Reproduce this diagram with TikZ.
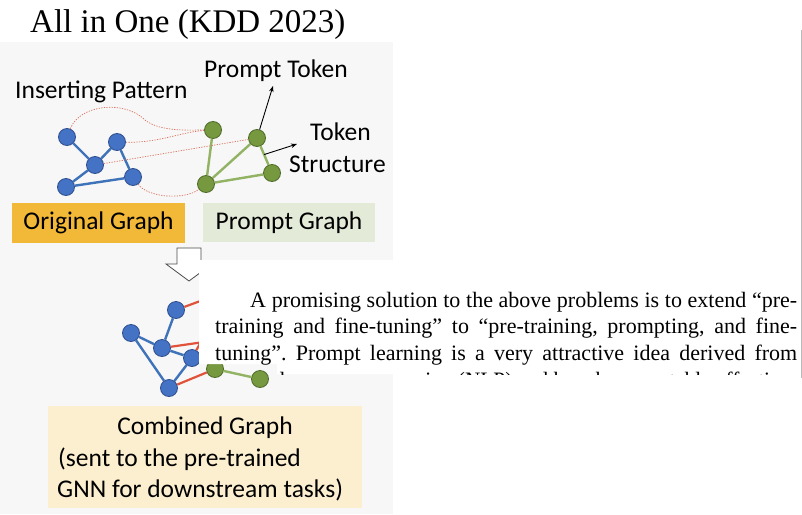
\documentclass[tikz,border=0pt]{standalone}
\usepackage{fontspec}
\setmainfont{Liberation Serif}
\newfontfamily\slidefont{Carlito}
\usepackage{graphicx}
\usetikzlibrary{arrows.meta}
\definecolor{aoBlue}{HTML}{4472C4}
\definecolor{aoBlueDark}{HTML}{2F4F8F}
\definecolor{aoBlueLine}{HTML}{3E73B9}
\definecolor{aoGreen}{HTML}{76983F}
\definecolor{aoGreenDark}{HTML}{4F6B29}
\definecolor{aoGreenLine}{HTML}{93B364}
\definecolor{aoRed}{HTML}{E0533A}
\definecolor{aoDot}{HTML}{D9735E}
\definecolor{aoOrange}{HTML}{F2B838}
\definecolor{aoMint}{HTML}{E3EBD8}
\definecolor{aoCream}{HTML}{FCEFCF}
\definecolor{aoSlide}{HTML}{F7F7F7}
\tikzset{
  bnode/.style={circle, fill=aoBlue, draw=aoBlueDark, line width=0.8pt, minimum size=17pt, inner sep=0pt},
  gnode/.style={circle, fill=aoGreen, draw=aoGreenDark, line width=0.8pt, minimum size=17pt, inner sep=0pt},
  bedge/.style={aoBlueLine, line width=2.4pt},
  gedge/.style={aoGreenLine, line width=2.4pt},
  redge/.style={aoRed, line width=2.2pt},
  dotlink/.style={aoDot, line width=0.7pt, dash pattern=on 1.3pt off 1.3pt},
  pointer/.style={-{Stealth[length=6pt,width=4.5pt]}, line width=0.9pt, black},
  slidetxt/.style={font=\slidefont\fontsize{25.5}{30}\selectfont, inner sep=0pt, anchor=base west},
  papertxt/.style={font=\fontsize{22}{26.5}\selectfont\frenchspacing, inner sep=0pt, anchor=base west},
}
\begin{document}
\begin{tikzpicture}[x=1pt, y=-1pt]
  \useasboundingbox (0,0) rectangle (802,514);
  \fill[white] (0,0) rectangle (802,514);
  % title
  \node[font=\fontsize{33}{40}\selectfont, inner sep=0pt, anchor=base west] (title) at (30,32) {All in One (KDD 2023)};
  % slide
  \fill[aoSlide] (0,42) rectangle (393,514);
  \node[slidetxt] (insLabel) at (15,98) {Inserting Pattern};
  \node[slidetxt] (ptLabel) at (204,77) {Prompt Token};
  \node[slidetxt] (tokLabel) at (310,140) {Token};
  \node[slidetxt] (strLabel) at (289,172) {Structure};
  % original graph
  \node[bnode] (o1) at (67,137) {};
  \node[bnode] (o2) at (117,142) {};
  \node[bnode] (o3) at (95,165) {};
  \node[bnode] (o4) at (133,177) {};
  \node[bnode] (o5) at (66,187) {};
  \foreach \a/\b in {o1/o3, o3/o2, o2/o4, o5/o4, o5/o3}{\draw[bedge] (\a) -- (\b);}
  % prompt graph
  \node[gnode] (p1) at (213,130) {};
  \node[gnode] (p2) at (257,138) {};
  \node[gnode] (p3) at (272,173) {};
  \node[gnode] (p4) at (206,184) {};
  \foreach \a/\b in {p1/p4, p4/p2, p4/p3}{\draw[gedge] (\a) -- (\b);}
  \draw[gedge] (p2) -- coordinate[pos=0.45] (tsFoot) (p3);
  % inserting pattern
  \draw[dotlink] (o1) .. controls (80,104) and (125,100) .. (145,120) .. controls (160,132) and (190,130) .. (p1);
  \draw[dotlink] (o2) .. controls (160,143) and (180,132) .. (p1);
  \draw[dotlink] (o3) -- (p2);
  \draw[dotlink] (o4) .. controls (148,198) and (185,200) .. (p4);
  % pointers
  \coordinate (ptTip) at (273,86);
  \coordinate (tsTip) at (297,144);
  \draw[pointer] (p2) -- (ptTip);
  \draw[pointer] (tsFoot) -- (tsTip);
  % label boxes
  \node[fill=aoOrange, minimum width=173pt, minimum height=40pt, inner sep=0pt,
        font=\slidefont\fontsize{25.5}{30}\selectfont] (origBox) at (98.5,222.5) {Original Graph};
  \node[fill=aoMint, minimum width=172pt, minimum height=39pt, inner sep=0pt,
        font=\slidefont\fontsize{25.5}{30}\selectfont] (promBox) at (289,222.5) {Prompt Graph};
  % down arrow
  \draw[gray!60!black, fill=white, line width=0.8pt]
    (177,248) -- (201,248) -- (201,264) -- (212,264) -- (189,281) -- (166,264) -- (177,264) -- cycle;
  % combined graph
  \node[bnode] (c1) at (176,310) {};
  \node[bnode] (c2) at (131,333) {};
  \node[bnode] (c3) at (162,348) {};
  \node[bnode] (c4) at (192,358) {};
  \node[bnode] (c5) at (169,388) {};
  \node[gnode] (g1) at (215,369) {};
  \node[gnode] (g2) at (260,379) {};
  \foreach \a/\b in {c1/c3, c2/c3, c3/c4, c2/c5, c4/c5}{\draw[bedge] (\a) -- (\b);}
  \coordinate (h1) at (230,290);
  \coordinate (h2) at (232,338);
  \coordinate (h3) at (212,322);
  \draw[redge] (c1) -- (h1);
  \draw[redge] (c3) -- (h2);
  \draw[redge] (c4) -- (h3);
  \draw[redge] (c5) -- (g1);
  \draw[gedge] (g1) -- (g2);
  % paper excerpt
  \fill[white] (199,260) -- (802,260) -- (802,374) -- (277,374) -- (277,364) -- (199,364) -- cycle;
  \begin{scope}
    \clip (199,260) -- (802,260) -- (802,374) -- (277,374) -- (277,364) -- (199,364) -- cycle;
    \node[papertxt] (par1) at (250,307) {\makebox[547pt][s]{A promising solution to the above problems is to extend ``pre-}};
    \node[papertxt] (par2) at (215,333.5) {\makebox[582pt][s]{training and fine-tuning'' to ``pre-training, prompting, and fine-}};
    \node[papertxt] (par3) at (215,360) {\makebox[582pt][s]{tuning''. Prompt learning is a very attractive idea derived from}};
    \node[papertxt] (par4) at (215,387) {\resizebox{582pt}{\height}{natural language processing (NLP) and has shown notable effective-}};
  \end{scope}
  \draw[gray!55, line width=1pt] (801.5,30) -- (801.5,378);
  % combined box
  \node[fill=aoCream, minimum width=314pt, minimum height=102pt, inner sep=0pt] (combBox) at (205,457) {};
  \node[slidetxt, anchor=base] (comb1) at (205,434) {Combined Graph};
  \node[slidetxt] (comb2) at (58,466) {(sent to the pre-trained};
  \node[slidetxt] (comb3) at (57,497) {GNN for downstream tasks)};
\end{tikzpicture}
\end{document}
